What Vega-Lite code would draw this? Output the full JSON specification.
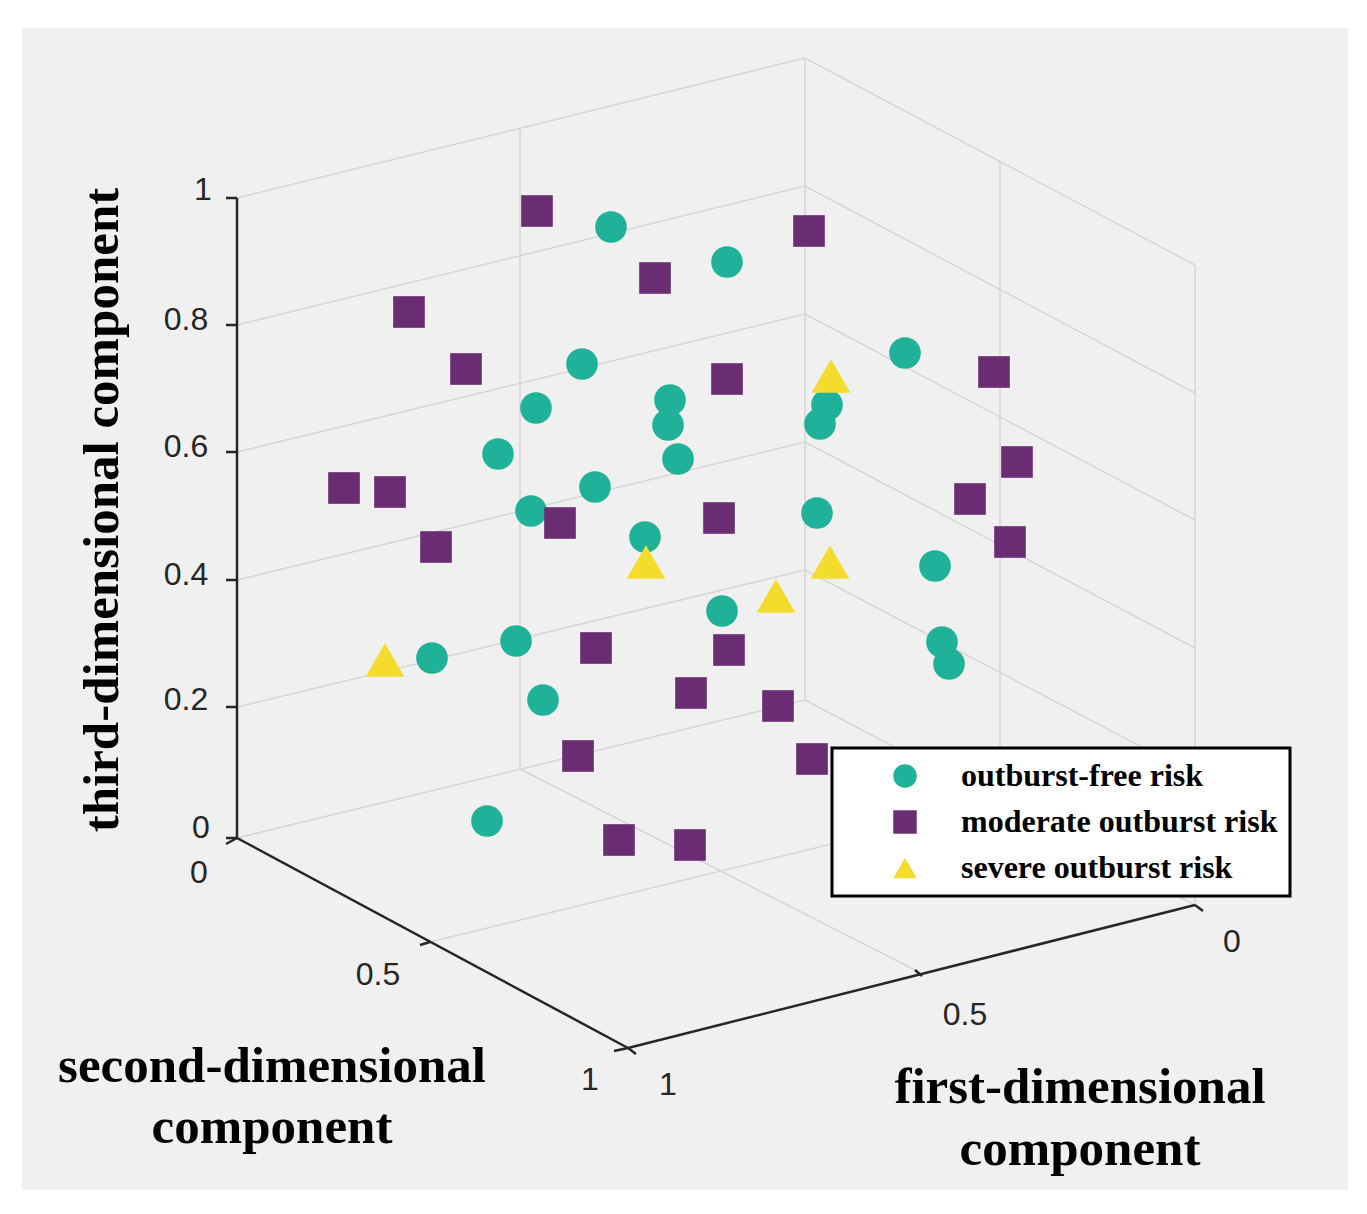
{
  "$schema": "https://vega.github.io/schema/vega-lite/v6.json",
  "autosize": {"type": "fit", "contains": "padding"},
  "width": 1367,
  "height": 1214,
  "padding": 0,
  "background": "#ffffff",
  "config": {"view": {"stroke": null}, "legend": {"strokeWidth": 3}},
  "datasets": {
    "panel": [{"x": 22, "y": 28, "x2": 1348, "y2": 1190}],
    "grid": [
      {"x": 237, "y": 198, "x2": 805, "y2": 58},
      {"x": 237, "y": 325, "x2": 805, "y2": 186},
      {"x": 237, "y": 452, "x2": 805, "y2": 314},
      {"x": 237, "y": 580, "x2": 805, "y2": 442},
      {"x": 237, "y": 707, "x2": 805, "y2": 570},
      {"x": 237, "y": 838, "x2": 805, "y2": 700},
      {"x": 805, "y": 58, "x2": 1195, "y2": 265},
      {"x": 805, "y": 186, "x2": 1195, "y2": 393},
      {"x": 805, "y": 314, "x2": 1195, "y2": 520},
      {"x": 805, "y": 442, "x2": 1195, "y2": 648},
      {"x": 805, "y": 570, "x2": 1195, "y2": 775},
      {"x": 805, "y": 700, "x2": 1195, "y2": 905},
      {"x": 805, "y": 58, "x2": 805, "y2": 700},
      {"x": 1195, "y": 265, "x2": 1195, "y2": 905},
      {"x": 520, "y": 128, "x2": 520, "y2": 769},
      {"x": 1000, "y": 161, "x2": 1000, "y2": 803},
      {"x": 430, "y": 942, "x2": 1000, "y2": 803},
      {"x": 915, "y": 970, "x2": 520, "y2": 769}
    ],
    "axes": [
      {"x": 237, "y": 198, "x2": 237, "y2": 838},
      {"x": 237, "y": 838, "x2": 628, "y2": 1048},
      {"x": 628, "y": 1048, "x2": 1195, "y2": 905},
      {"x": 237, "y": 198, "x2": 226, "y2": 198},
      {"x": 237, "y": 325, "x2": 226, "y2": 325},
      {"x": 237, "y": 452, "x2": 226, "y2": 452},
      {"x": 237, "y": 580, "x2": 226, "y2": 580},
      {"x": 237, "y": 707, "x2": 226, "y2": 707},
      {"x": 237, "y": 838, "x2": 226, "y2": 838},
      {"x": 237, "y": 838, "x2": 226, "y2": 844},
      {"x": 430, "y": 942, "x2": 420, "y2": 945},
      {"x": 628, "y": 1048, "x2": 614, "y2": 1051},
      {"x": 628, "y": 1048, "x2": 636, "y2": 1054},
      {"x": 915, "y": 970, "x2": 922, "y2": 976},
      {"x": 1195, "y": 905, "x2": 1203, "y2": 911}
    ],
    "ticks": [
      {"x": 203, "y": 190, "t": "1"},
      {"x": 186, "y": 320, "t": "0.8"},
      {"x": 186, "y": 447, "t": "0.6"},
      {"x": 186, "y": 575, "t": "0.4"},
      {"x": 186, "y": 700, "t": "0.2"},
      {"x": 201, "y": 828, "t": "0"},
      {"x": 199, "y": 873, "t": "0"},
      {"x": 378, "y": 975, "t": "0.5"},
      {"x": 590, "y": 1080, "t": "1"},
      {"x": 1232, "y": 942, "t": "0"},
      {"x": 965, "y": 1015, "t": "0.5"},
      {"x": 668, "y": 1085, "t": "1"}
    ],
    "titles": [
      {"x": 272, "y": 1067, "t": "second-dimensional"},
      {"x": 272, "y": 1128, "t": "component"},
      {"x": 1080, "y": 1088, "t": "first-dimensional"},
      {"x": 1080, "y": 1150, "t": "component"}
    ],
    "vtitle": [{"x": 103, "y": 510, "t": "third-dimensional component"}],
    "points": [
      {"x": 611, "y": 227, "c": "outburst-free risk"},
      {"x": 727, "y": 262, "c": "outburst-free risk"},
      {"x": 905, "y": 353, "c": "outburst-free risk"},
      {"x": 582, "y": 364, "c": "outburst-free risk"},
      {"x": 536, "y": 408, "c": "outburst-free risk"},
      {"x": 670, "y": 400, "c": "outburst-free risk"},
      {"x": 668, "y": 425, "c": "outburst-free risk"},
      {"x": 827, "y": 405, "c": "outburst-free risk"},
      {"x": 820, "y": 424, "c": "outburst-free risk"},
      {"x": 498, "y": 454, "c": "outburst-free risk"},
      {"x": 678, "y": 459, "c": "outburst-free risk"},
      {"x": 595, "y": 487, "c": "outburst-free risk"},
      {"x": 531, "y": 511, "c": "outburst-free risk"},
      {"x": 817, "y": 513, "c": "outburst-free risk"},
      {"x": 645, "y": 537, "c": "outburst-free risk"},
      {"x": 935, "y": 566, "c": "outburst-free risk"},
      {"x": 722, "y": 611, "c": "outburst-free risk"},
      {"x": 516, "y": 641, "c": "outburst-free risk"},
      {"x": 942, "y": 642, "c": "outburst-free risk"},
      {"x": 949, "y": 664, "c": "outburst-free risk"},
      {"x": 432, "y": 658, "c": "outburst-free risk"},
      {"x": 543, "y": 700, "c": "outburst-free risk"},
      {"x": 487, "y": 821, "c": "outburst-free risk"},
      {"x": 537, "y": 211, "c": "moderate outburst risk"},
      {"x": 809, "y": 231, "c": "moderate outburst risk"},
      {"x": 655, "y": 278, "c": "moderate outburst risk"},
      {"x": 409, "y": 312, "c": "moderate outburst risk"},
      {"x": 466, "y": 369, "c": "moderate outburst risk"},
      {"x": 727, "y": 379, "c": "moderate outburst risk"},
      {"x": 994, "y": 372, "c": "moderate outburst risk"},
      {"x": 1017, "y": 462, "c": "moderate outburst risk"},
      {"x": 344, "y": 488, "c": "moderate outburst risk"},
      {"x": 390, "y": 492, "c": "moderate outburst risk"},
      {"x": 970, "y": 499, "c": "moderate outburst risk"},
      {"x": 560, "y": 523, "c": "moderate outburst risk"},
      {"x": 719, "y": 518, "c": "moderate outburst risk"},
      {"x": 1010, "y": 542, "c": "moderate outburst risk"},
      {"x": 436, "y": 547, "c": "moderate outburst risk"},
      {"x": 596, "y": 648, "c": "moderate outburst risk"},
      {"x": 729, "y": 650, "c": "moderate outburst risk"},
      {"x": 691, "y": 693, "c": "moderate outburst risk"},
      {"x": 778, "y": 706, "c": "moderate outburst risk"},
      {"x": 578, "y": 756, "c": "moderate outburst risk"},
      {"x": 812, "y": 759, "c": "moderate outburst risk"},
      {"x": 619, "y": 840, "c": "moderate outburst risk"},
      {"x": 690, "y": 845, "c": "moderate outburst risk"},
      {"x": 831, "y": 376, "c": "severe outburst risk"},
      {"x": 646, "y": 562, "c": "severe outburst risk"},
      {"x": 830, "y": 562, "c": "severe outburst risk"},
      {"x": 776, "y": 596, "c": "severe outburst risk"},
      {"x": 385, "y": 660, "c": "severe outburst risk"}
    ]
  },
  "layer": [
    {
      "data": {"name": "panel"},
      "mark": {"type": "rect", "color": "#f0f0f0"},
      "encoding": {
        "x": {"field": "x", "type": "quantitative", "scale": {"domain": [0, 1367], "nice": false, "zero": false}, "axis": null},
        "y": {"field": "y", "type": "quantitative", "scale": {"domain": [0, 1214], "nice": false, "zero": false, "reverse": true}, "axis": null},
        "x2": {"field": "x2"},
        "y2": {"field": "y2"}
      }
    },
    {
      "data": {"name": "grid"},
      "mark": {"type": "rule", "color": "#d6d6d6", "strokeWidth": 1.5},
      "encoding": {
        "x": {"field": "x", "type": "quantitative"},
        "y": {"field": "y", "type": "quantitative"},
        "x2": {"field": "x2"},
        "y2": {"field": "y2"}
      }
    },
    {
      "data": {"name": "axes"},
      "mark": {"type": "rule", "color": "#262626", "strokeWidth": 2.5},
      "encoding": {
        "x": {"field": "x", "type": "quantitative"},
        "y": {"field": "y", "type": "quantitative"},
        "x2": {"field": "x2"},
        "y2": {"field": "y2"}
      }
    },
    {
      "data": {"name": "ticks"},
      "mark": {"type": "text", "font": "Liberation Sans", "fontSize": 32, "color": "#262626", "align": "center", "baseline": "middle"},
      "encoding": {
        "x": {"field": "x", "type": "quantitative"},
        "y": {"field": "y", "type": "quantitative"},
        "text": {"field": "t"}
      }
    },
    {
      "data": {"name": "titles"},
      "mark": {"type": "text", "font": "Liberation Serif", "fontWeight": "bold", "fontSize": 51, "color": "#000000", "align": "center", "baseline": "middle"},
      "encoding": {
        "x": {"field": "x", "type": "quantitative"},
        "y": {"field": "y", "type": "quantitative"},
        "text": {"field": "t"}
      }
    },
    {
      "data": {"name": "vtitle"},
      "mark": {"type": "text", "font": "Liberation Serif", "fontWeight": "bold", "fontSize": 51, "color": "#000000", "align": "center", "baseline": "middle", "angle": 270},
      "encoding": {
        "x": {"field": "x", "type": "quantitative"},
        "y": {"field": "y", "type": "quantitative"},
        "text": {"field": "t"}
      }
    },
    {
      "data": {"name": "points"},
      "transform": [{"filter": "datum.c != 'severe outburst risk'"}],
      "mark": {"type": "point", "filled": true, "opacity": 1, "size": 1000},
      "encoding": {
        "x": {"field": "x", "type": "quantitative"},
        "y": {"field": "y", "type": "quantitative"},
        "color": {
          "field": "c", "type": "nominal",
          "scale": {"domain": ["outburst-free risk", "moderate outburst risk", "severe outburst risk"], "range": ["#1fb298", "#6b2d72", "#f3dc2b"]},
          "legend": {
            "title": null, "orient": "none", "legendX": 832, "legendY": 748,
            "fillColor": "#ffffff", "strokeColor": "#000000",
            "padding": 12, "rowPadding": 14, "symbolSize": 550,
            "labelFont": "Liberation Serif", "labelFontWeight": "bold", "labelFontSize": 32, "labelColor": "#000000",
            "labelLimit": 600, "symbolOffset": 45, "labelOffset": 40
          }
        },
        "shape": {
          "field": "c", "type": "nominal",
          "scale": {"domain": ["outburst-free risk", "moderate outburst risk", "severe outburst risk"], "range": ["circle", "square", "triangle-up"]}
        }
      }
    },
    {
      "data": {"name": "points"},
      "transform": [{"filter": "datum.c == 'severe outburst risk'"}],
      "mark": {"type": "point", "filled": true, "opacity": 1, "size": 1500},
      "encoding": {
        "x": {"field": "x", "type": "quantitative"},
        "y": {"field": "y", "type": "quantitative"},
        "color": {"field": "c", "type": "nominal"},
        "shape": {"field": "c", "type": "nominal"}
      }
    }
  ]
}
